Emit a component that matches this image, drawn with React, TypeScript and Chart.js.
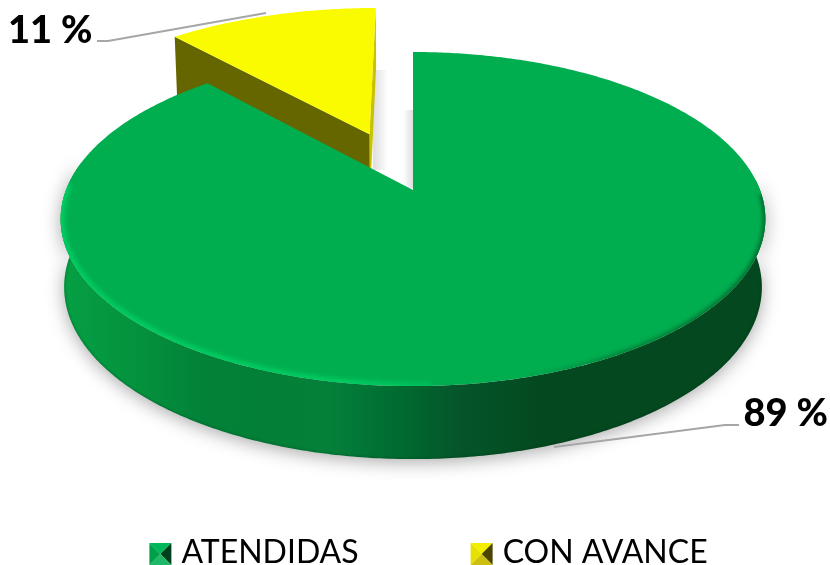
import React, { useEffect, useRef } from "react";
import { Chart, registerables } from "chart.js";

Chart.register(...registerables);

const categories = ["ATENDIDAS", "CON AVANCE"];
const values = [89, 11];
const faceColors = ["#00AE50", "#FAFA00"];
const cutColors = ["#00803a", "#666600"];
const bevelColors = [
  ["#00b85a", "#00a048", "#00401c", "#1fb868"],
  ["#f4ee00", "#e8e000", "#4a4600", "#cdbf10"],
];
const explode = [0, 0.39];
const radii = [1, 1.03];
const labelAnchors = [
  [828, 426, "right"],
  [8, 43, "left"],
];
const leaders = [
  [[739, 425], [725, 425], [554, 447]],
  [[97, 41], [108, 41], [266, 13]],
];
const wallStops: [number, string][] = [
  [0, "#05a044"],
  [0.1, "#04933e"],
  [0.2, "#028238"],
  [0.3, "#037f37"],
  [0.38, "#04803a"],
  [0.48, "#006a30"],
  [0.565, "#05552a"],
  [0.69, "#03481f"],
  [1, "#03481f"],
];

const CX = 413, CY = 190, A = 347, B = 162, K = 0.174;
const TWIST = (2.4 * Math.PI) / 180;
const MID = (-20 * Math.PI) / 180;

function project(u: number, v: number): [number, number] {
  const w = 1 + K * v;
  return [CX + (A * u) / w, CY - (B * v) / w];
}
function unit(theta: number, d: number): [number, number] {
  const t = theta + TWIST * Math.sin(2 * theta);
  const r = d ? radii[1] : radii[0];
  return [r * Math.sin(t) + d * Math.sin(MID), r * Math.cos(t) + d * Math.cos(MID)];
}
function down(p: [number, number], v: number): [number, number] {
  return [CX + (p[0] - CX) * 0.99, p[1] + 67 - 6 * v];
}
function top(theta: number, d: number) {
  const [u, v] = unit(theta, d);
  return project(u, v);
}
function bottom(theta: number, d: number) {
  const [u, v] = unit(theta, d);
  return down(project(u, v), v);
}
function trace(ctx: CanvasRenderingContext2D, pts: [number, number][]) {
  ctx.beginPath();
  pts.forEach((p, i) => (i ? ctx.lineTo(p[0], p[1]) : ctx.moveTo(p[0], p[1])));
  ctx.closePath();
}
function openPath(ctx: CanvasRenderingContext2D, pts: [number, number][]) {
  ctx.beginPath();
  pts.forEach((p, i) => (i ? ctx.lineTo(p[0], p[1]) : ctx.moveTo(p[0], p[1])));
}
function sweep(a: number, b: number, fn: (t: number) => [number, number]) {
  const out: [number, number][] = [];
  const n = Math.max(8, Math.ceil(Math.abs(b - a) / 0.01));
  for (let i = 0; i <= n; i++) out.push(fn(a + ((b - a) * i) / n));
  return out;
}

const pie3d = {
  id: "pie3d",
  beforeDatasetsDraw(chart: any) {
    const ctx: CanvasRenderingContext2D = chart.ctx;
    const arcs = chart.getDatasetMeta(0).data;
    const a0 = arcs[0].startAngle + Math.PI / 2;
    const a1 = arcs[0].endAngle + Math.PI / 2;
    const b0 = arcs[1].startAngle + Math.PI / 2;
    const b1 = arcs[1].endAngle + Math.PI / 2;
    const d = explode[1];

    // soft shadows seen through the notch
    ctx.save();
    let g = ctx.createLinearGradient(373, 0, 388, 0);
    g.addColorStop(0, "rgba(0,0,0,0.13)");
    g.addColorStop(1, "rgba(0,0,0,0)");
    ctx.fillStyle = g;
    ctx.fillRect(373, 70, 15, 100);
    g = ctx.createLinearGradient(403, 0, 413, 0);
    g.addColorStop(0, "rgba(0,0,0,0)");
    g.addColorStop(1, "rgba(0,0,0,0.13)");
    ctx.fillStyle = g;
    ctx.fillRect(403, 110, 10, 78);
    ctx.restore();

    // exploded slice: cut walls then face
    const uA = d * Math.sin(MID), vA = d * Math.cos(MID);
    const yApex = project(uA, vA);
    const yApexLow = down(yApex, vA);
    const yEnd = top(b1, d), yEndLow = bottom(b1, d);
    const yStart = top(b0, d), yStartLow = bottom(b0, d);
    trace(ctx, [yApex, yEnd, yEndLow, yApexLow]);
    ctx.fillStyle = "#c9c200";
    ctx.fill();
    trace(ctx, [yApex, yStart, yStartLow, yApexLow]);
    ctx.fillStyle = cutColors[1];
    ctx.fill();
    trace(ctx, [yApex, ...sweep(b0, b1, (t) => top(t, d))]);
    ctx.fillStyle = faceColors[1];
    ctx.fill();

    // main slice: outer wall, with ground shadow
    const wall = [
      ...sweep(1.5, 4.9, (t) => top(t, 0)),
      ...sweep(4.9, 1.5, (t) => bottom(t, 0)),
    ];
    ctx.save();
    ctx.shadowColor = "rgba(0,0,0,0.34)";
    ctx.shadowBlur = 18;
    ctx.shadowOffsetY = 3;
    const wg = ctx.createLinearGradient(61, 0, 767, 0);
    wallStops.forEach(([o, c]) => wg.addColorStop(o, c));
    trace(ctx, wall);
    ctx.fillStyle = wg;
    ctx.fill();
    ctx.restore();
    ctx.save();
    trace(ctx, wall);
    ctx.clip();
    ctx.filter = "blur(1px)";
    ctx.strokeStyle = "rgba(0,50,20,0.3)";
    ctx.lineWidth = 2;
    openPath(ctx, sweep(1.7, 4.7, (t) => bottom(t, 0)));
    ctx.stroke();
    ctx.restore();

    // main slice face
    const apex: [number, number] = [CX, CY];
    const face = [apex, ...sweep(a0, a1, (t) => top(t, 0))];
    trace(ctx, face);
    ctx.fillStyle = faceColors[0];
    ctx.fill();

    // rim light and shade
    ctx.save();
    trace(ctx, face);
    ctx.clip();
    ctx.filter = "blur(2px)";
    const rim = ctx.createLinearGradient(61, 0, 520, 0);
    rim.addColorStop(0, "rgba(0,210,100,0.85)");
    rim.addColorStop(0.65, "rgba(0,210,100,0.8)");
    rim.addColorStop(1, "rgba(0,210,100,0)");
    ctx.strokeStyle = rim;
    ctx.lineWidth = 8;
    openPath(ctx, sweep(3.1, 4.75, (t) => top(t, 0)));
    ctx.stroke();
    const shade = ctx.createLinearGradient(520, 0, 767, 0);
    shade.addColorStop(0, "rgba(0,70,30,0)");
    shade.addColorStop(0.4, "rgba(0,70,30,0.45)");
    shade.addColorStop(1, "rgba(0,70,30,0.7)");
    ctx.strokeStyle = shade;
    ctx.lineWidth = 5;
    openPath(ctx, sweep(1.6, 3.1, (t) => top(t, 0)));
    ctx.stroke();
    ctx.restore();
    return false;
  },
  afterDraw(chart: any) {
    const ctx: CanvasRenderingContext2D = chart.ctx;
    // leader lines
    ctx.save();
    ctx.strokeStyle = "#a6a6a6";
    ctx.lineWidth = 2;
    leaders.forEach((line) => {
      openPath(ctx, line as [number, number][]);
      ctx.stroke();
    });
    // data labels
    ctx.fillStyle = "#000";
    ctx.font = "900 38px Lato";
    values.forEach((v, i) => {
      const [x, y, align] = labelAnchors[i] as [number, number, CanvasTextAlign];
      ctx.textAlign = align;
      ctx.textBaseline = "alphabetic";
      ctx.fillText(`${v} %`, x, y);
    });
    // bevelled legend keys
    chart.legend.legendHitBoxes.forEach((box: any, i: number) => {
      const s = 22, x = box.left, y = box.top + (box.height - s) / 2 + 1;
      const c: [number, number] = [x + s / 2, y + s / 2];
      const corners: [number, number][] = [[x, y], [x + s, y], [x + s, y + s], [x, y + s]];
      const order = [[0, 1], [1, 2], [2, 3], [3, 0]];
      const shades = [bevelColors[i][0], bevelColors[i][2], bevelColors[i][3], bevelColors[i][1]];
      order.forEach(([p, q], k) => {
        trace(ctx, [corners[p], corners[q], c]);
        ctx.fillStyle = shades[k];
        ctx.fill();
      });
    });
    ctx.restore();
  },
};

export default function App() {
  const ref = useRef<HTMLCanvasElement>(null);
  useEffect(() => {
    const chart = new Chart(ref.current!, {
      type: "pie",
      data: {
        labels: categories,
        datasets: [{ data: values, backgroundColor: faceColors, borderWidth: 0 }],
      },
      options: {
        animation: false,
        responsive: false,
        layout: { padding: { bottom: -14, left: 27 } },
        plugins: {
          tooltip: { enabled: false },
          legend: {
            position: "bottom",
            labels: {
              color: "#616161",
              font: { family: "Lato", size: 32 },
              boxWidth: 16,
              boxHeight: 16,
              padding: 112,
              generateLabels: () =>
                categories.map((text, i) => ({
                  text,
                  fillStyle: "rgba(0,0,0,0)",
                  strokeStyle: "rgba(0,0,0,0)",
                  lineWidth: 0,
                  index: i,
                })),
            },
          },
        },
      },
      plugins: [pie3d],
    } as any);
    return () => chart.destroy();
  }, []);
  return (
    <div style={{ position: "fixed", left: 0, top: 0, width: 830, height: 565, background: "#fff" }}>
      <canvas ref={ref} width={830} height={565} style={{ display: "block" }} />
    </div>
  );
}
